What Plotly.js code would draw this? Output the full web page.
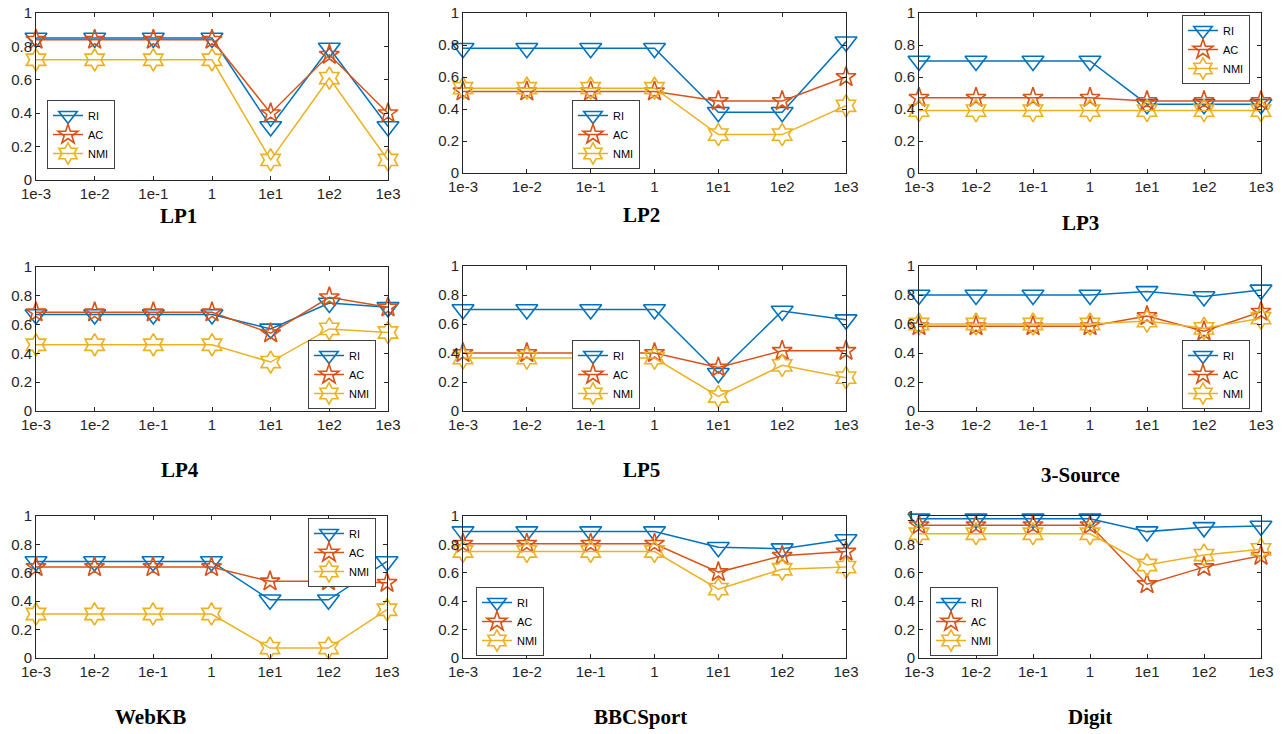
<!DOCTYPE html>
<html><head><meta charset="utf-8">
<script src="https://cdn.plot.ly/plotly-3.0.1.min.js"></script>
<style>html,body{margin:0;padding:0;background:#fff}#chart{width:1287px;height:734px}</style>
</head><body><div id="chart"></div><script>
// ---------------- data ----------------
const xTickLabels = ['1e-3','1e-2','1e-1','1','1e1','1e2','1e3'];
const seriesNames = ['RI','AC','NMI'];
const panelTitles = ['LP1','LP2','LP3','LP4','LP5','3-Source','WebKB','BBCSport','Digit'];

const LP1_RI  = [0.85,0.85,0.85,0.85,0.32,0.79,0.32];
const LP1_AC  = [0.84,0.84,0.84,0.84,0.40,0.75,0.40];
const LP1_NMI = [0.72,0.72,0.72,0.72,0.12,0.61,0.12];

const LP2_RI  = [0.78,0.78,0.78,0.78,0.38,0.38,0.82];
const LP2_AC  = [0.51,0.51,0.51,0.51,0.45,0.45,0.60];
const LP2_NMI = [0.53,0.53,0.53,0.53,0.24,0.24,0.42];

const LP3_RI  = [0.70,0.70,0.70,0.70,0.43,0.43,0.43];
const LP3_AC  = [0.47,0.47,0.47,0.47,0.45,0.45,0.45];
const LP3_NMI = [0.39,0.39,0.39,0.39,0.39,0.39,0.39];

const LP4_RI  = [0.67,0.67,0.67,0.67,0.57,0.75,0.72];
const LP4_AC  = [0.685,0.685,0.685,0.685,0.54,0.79,0.72];
const LP4_NMI = [0.46,0.46,0.46,0.46,0.34,0.57,0.545];

const LP5_RI  = [0.70,0.70,0.70,0.70,0.26,0.69,0.63];
const LP5_AC  = [0.40,0.40,0.40,0.40,0.30,0.415,0.415];
const LP5_NMI = [0.365,0.365,0.365,0.365,0.10,0.315,0.23];

const S3_RI   = [0.80,0.80,0.80,0.80,0.825,0.79,0.835];
const S3_AC   = [0.585,0.585,0.585,0.585,0.655,0.55,0.685];
const S3_NMI  = [0.60,0.60,0.60,0.60,0.62,0.57,0.64];

const WEBKB_RI  = [0.68,0.68,0.68,0.68,0.41,0.41,0.68];
const WEBKB_AC  = [0.64,0.64,0.64,0.64,0.54,0.54,0.53];
const WEBKB_NMI = [0.31,0.31,0.31,0.31,0.07,0.07,0.34];

const BBC_RI  = [0.89,0.89,0.89,0.89,0.78,0.77,0.835];
const BBC_AC  = [0.805,0.805,0.805,0.805,0.605,0.72,0.75];
const BBC_NMI = [0.75,0.75,0.75,0.75,0.485,0.625,0.64];

const DIGIT_RI  = [0.98,0.98,0.98,0.98,0.89,0.92,0.93];
const DIGIT_AC  = [0.935,0.935,0.935,0.935,0.52,0.64,0.72];
const DIGIT_NMI = [0.875,0.875,0.875,0.875,0.655,0.725,0.765];

const panelData = [
  [LP1_RI, LP1_AC, LP1_NMI],
  [LP2_RI, LP2_AC, LP2_NMI],
  [LP3_RI, LP3_AC, LP3_NMI],
  [LP4_RI, LP4_AC, LP4_NMI],
  [LP5_RI, LP5_AC, LP5_NMI],
  [S3_RI, S3_AC, S3_NMI],
  [WEBKB_RI, WEBKB_AC, WEBKB_NMI],
  [BBC_RI, BBC_AC, BBC_NMI],
  [DIGIT_RI, DIGIT_AC, DIGIT_NMI]
];

// ---------------- layout / style ----------------
const W = 1287, H = 734;
// pixel boxes [left, right, top, bottom]
const boxes = [
  [36,388,13,180],[463,846,13,173],[919,1261,13,173],
  [36,388,267,411],[463,846,266,411],[919,1261,266,411],
  [36,387,516,658],[463,846,516,658],[919,1261,516,658]
];
// title centre positions [x, y] in px
const titlePos = [[178,216],[641,215],[1080,223],[180,470],[641,470],[1080,475],[150,717],[640,717],[1090,717]];
// legend placement: [x px, y px, xanchor, yanchor]
const legendPos = [
  [47,169,'left','bottom'],[572,169,'left','bottom'],[1250,15,'right','top'],
  [376,409,'right','bottom'],[572,409,'left','bottom'],[1250,409,'right','bottom'],
  [376,518,'right','top'],[476,656,'left','bottom'],[930,656,'left','bottom']
];
const colors = ['#0072BD','#D95319','#EDB120'];
const symbols = ['triangle-down-open','star-open','hexagram-open'];
const sizes = [19,15,17];
const xIdx = xTickLabels.map((_, i) => i);

const traces = [];
const layout = {
  width: W, height: H,
  margin: {l:0,r:0,t:0,b:0},
  paper_bgcolor: '#fff', plot_bgcolor: '#fff',
  showlegend: true,
  annotations: [],
  font: {family: 'Liberation Sans, Arial, sans-serif', color: '#262626'}
};

panelData.forEach((series, p) => {
  const n = p + 1;
  const xa = 'x' + (n === 1 ? '' : n), ya = 'y' + (n === 1 ? '' : n);
  const lg = 'legend' + (n === 1 ? '' : n);
  series.forEach((vals, s) => {
    traces.push({
      x: xIdx, y: vals, xaxis: xa, yaxis: ya, legend: lg,
      type: 'scatter', mode: 'lines+markers', name: seriesNames[s],
      cliponaxis: false,
      line: {color: colors[s], width: 1.5},
      marker: {symbol: symbols[s], size: sizes[s], color: colors[s], line: {width: 1.6, color: colors[s]}}
    });
  });
  const b = boxes[p];
  const axCommon = {
    showline: true, linecolor: '#262626', linewidth: 1, mirror: 'ticks',
    ticks: 'inside', ticklen: 4, tickcolor: '#262626', showgrid: false, zeroline: false,
    tickfont: {family: 'Liberation Sans, Arial, sans-serif', size: 15, color: '#262626'},
    fixedrange: true
  };
  layout['xaxis' + (n === 1 ? '' : n)] = Object.assign({}, axCommon, {
    domain: [b[0]/W, b[1]/W], anchor: ya, range: [0, 6],
    tickmode: 'array', tickvals: xIdx, ticktext: xTickLabels
  });
  layout['yaxis' + (n === 1 ? '' : n)] = Object.assign({}, axCommon, {
    domain: [1 - b[3]/H, 1 - b[2]/H], anchor: xa, range: [0, 1],
    tickmode: 'linear', tick0: 0, dtick: 0.2
  });
  const lp = legendPos[p];
  layout[lg] = {
    x: lp[0]/W, y: 1 - lp[1]/H, xanchor: lp[2], yanchor: lp[3],
    xref: 'paper', yref: 'paper',
    bgcolor: '#fff', bordercolor: '#404040', borderwidth: 1,
    font: {family: 'Liberation Sans, Arial, sans-serif', size: 11, color: '#000'},
    itemwidth: 30, tracegroupgap: 0
  };
  const tp = titlePos[p];
  layout.annotations.push({
    text: panelTitles[p], xref: 'paper', yref: 'paper',
    x: tp[0]/W, y: 1 - tp[1]/H, xanchor: 'center', yanchor: 'middle', showarrow: false,
    font: {family: 'Liberation Serif, Times New Roman, serif', size: 21, color: '#000', weight: 'bold'}
  });
});

Plotly.newPlot('chart', traces, layout, {displayModeBar: false, staticPlot: true});
</script></body></html>
